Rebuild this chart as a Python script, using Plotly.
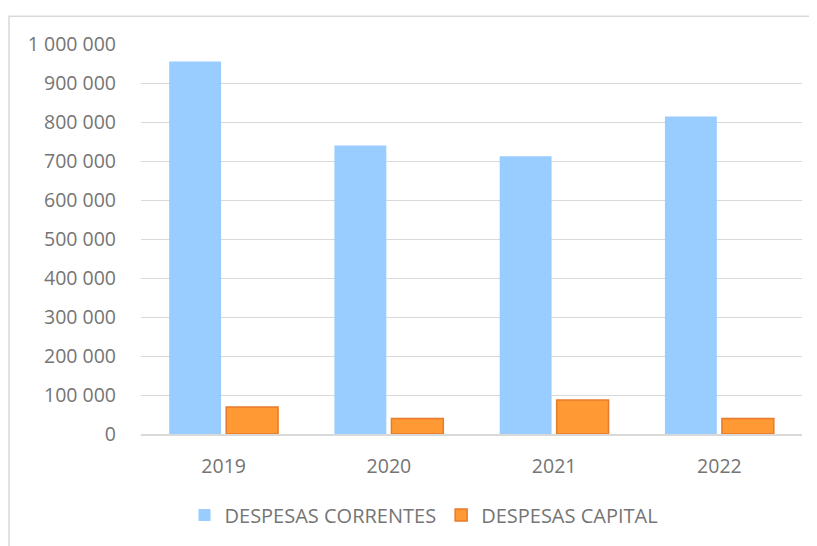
import plotly.graph_objects as go

years = ["2019", "2020", "2021", "2022"]
correntes = [955000, 740000, 712000, 814000]
capital = [69000, 40000, 87000, 40000]
series_names = ["DESPESAS CORRENTES", "DESPESAS CAPITAL"]
y_ticks = [0, 100000, 200000, 300000, 400000, 500000, 600000, 700000, 800000, 900000, 1000000]

FONT = "Open Sans"
TXT = "#757575"
GRID = "#D9D9D9"

fig = go.Figure()
fig.add_trace(go.Bar(x=years, y=correntes, name=series_names[0],
                     marker=dict(color="#99CCFF", line=dict(width=0))))
fig.add_trace(go.Bar(x=years, y=capital, name=series_names[1],
                     marker=dict(color="#FF9933", line=dict(color="#E87A2C", width=1.5))))

# page body has an 8px margin; work in screen pixels and shift
OFF = 8
W, H = 817 - OFF, 546 - OFF
PL, PR, PT, PB = 141, 802, 44, 436.5  # plot area in screen px
L, R, T, B = PL - OFF, (W + OFF) - PR, PT - OFF, (H + OFF) - PB
pw = PR - PL
ph = PB - PT

def px2x(px):
    return (px - PL) / pw

def py2y(py):
    return (PB - py) / ph

fig.update_layout(
    width=W, height=H,
    margin=dict(l=L, r=R, t=T, b=B, pad=0),
    paper_bgcolor="white", plot_bgcolor="white",
    separators=", ",
    barmode="group", bargap=0.31, bargroupgap=0.09,
    font=dict(family=FONT, size=19.5, color=TXT),
    showlegend=True,
    legend=dict(orientation="h", x=px2x(424), xanchor="center",
                y=py2y(518), yanchor="middle",
                font=dict(family=FONT, size=20, color=TXT),
                bgcolor="rgba(0,0,0,0)", itemwidth=30),
    xaxis=dict(showgrid=False, showline=True, linecolor=GRID, linewidth=1.5,
               ticks="", ticklabelstandoff=14,
               tickfont=dict(family=FONT, size=19.5, color=TXT)),
    yaxis=dict(range=[0, 1000000], tickvals=y_ticks, tickformat=",d",
               showgrid=True, gridcolor=GRID, gridwidth=1,
               zeroline=False, showline=False, ticks="",
               ticklabelstandoff=24,
               tickfont=dict(family=FONT, size=19.5, color=TXT)),
    shapes=[dict(type="rect", xref="paper", yref="paper",
                 x0=px2x(9), x1=px2x(840), y0=py2y(600), y1=py2y(16),
                 line=dict(color=GRID, width=1.5), fillcolor="rgba(0,0,0,0)",
                 layer="below")],
)

fig.write_html("out.html")
